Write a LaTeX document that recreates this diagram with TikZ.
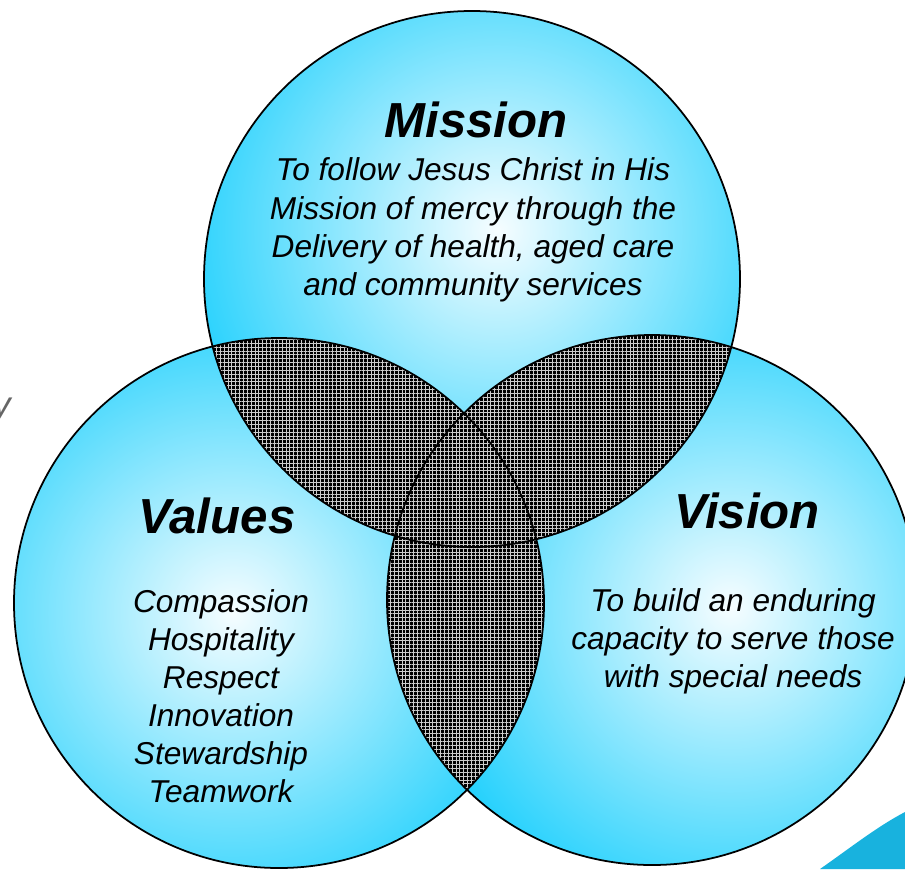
\documentclass[tikz,border=0pt]{standalone}
\usepackage{fontspec}
\setmainfont{Liberation Sans}
\usetikzlibrary{patterns.meta}
\definecolor{venncyan}{RGB}{4,202,252}
\definecolor{vennglow}{RGB}{246,253,255}
\definecolor{swoosh}{RGB}{24,178,222}
\def\headfont{\bfseries\itshape\fontsize{28}{32}\selectfont}
\def\bodyfont{\itshape\fontsize{18}{21.7}\selectfont}

\begin{document}
\begin{tikzpicture}[x=0.02cm,y=-0.02cm,
	lens/.style={fill=black,postaction={pattern={Hatch[angle=0,distance=2.2pt,line width=.55pt]},pattern color=white!80!black}},
	rim/.style={draw=black,line width=1pt},
	head/.style={font=\headfont,inner sep=0pt,anchor=base},
	body/.style={font=\bodyfont,align=center,inner sep=0pt}]
\useasboundingbox (0,0) rectangle (905,869);

\coordinate		(mis)		at (472,279);
\coordinate		(val)		at (279,603);
\coordinate		(vis)		at (652,600);
\coordinate		(misglow)	at (497,230);
\coordinate		(valglow)	at (233,613);
\coordinate		(visglow)	at (730,607);

\fill[swoosh] (820,869) .. controls (850,848) and (878,826) .. (905,812) -- (905,869) -- cycle;

\foreach \c/\g/\r in {mis/misglow/268, val/valglow/265, vis/visglow/265}{
	\fill[venncyan] (\c) circle (\r);
	\begin{scope}
		\clip (\c) circle (\r);
		\shade[inner color=vennglow, outer color=venncyan] (\g) circle (370);
	\end{scope}
}

\begin{scope}
	\clip (mis) circle (268);
	\fill[lens] (val) circle (265);
	\fill[lens] (vis) circle (265);
\end{scope}
\begin{scope}
	\clip (val) circle (265);
	\fill[lens] (vis) circle (265);
\end{scope}

\draw[rim] (mis) circle (268);
\draw[rim] (val) circle (265);
\draw[rim] (vis) circle (265);

\node[head]					(mishead)	at (476,137)	{Mission};
\node[head]					(valhead)	at (217,533)	{Values};
\node[head]					(vishead)	at (747,528)	{Vision};

\node[body]					(mistext)	at (473,230)	{To follow Jesus Christ in His\\Mission of mercy through the\\Delivery of health, aged care\\and community services};
\node[body]					(valtext)	at (221,696)	{Compassion\\Hospitality\\Respect\\Innovation\\Stewardship\\Teamwork};
\node[body]					(vistext)	at (733,641)	{To build an enduring\\capacity to serve those\\with special needs};

\node[font=\itshape\fontsize{20}{24}\selectfont,text=black!60,anchor=base east,inner sep=0pt]	(cut)	at (11,416)	{y};
\end{tikzpicture}
\end{document}
